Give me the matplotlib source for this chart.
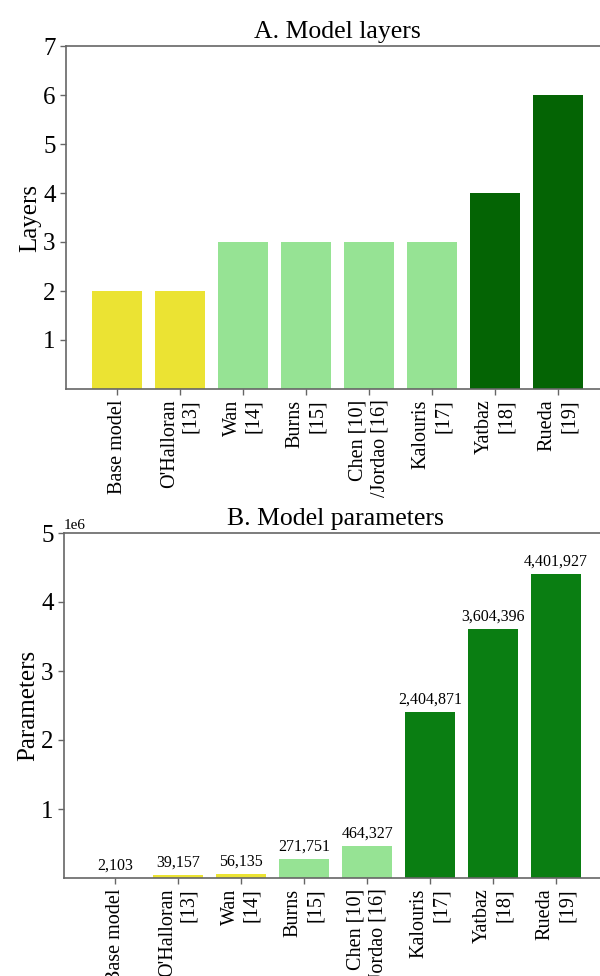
import matplotlib
matplotlib.use("Agg")
import matplotlib.pyplot as plt

plt.rcParams['font.family'] = ['Liberation Serif', 'DejaVu Serif']

labels = ["Base model", "O'Halloran\n[13]", "Wan\n[14]", "Burns\n[15]",
          "Chen [10]\n/Jordao [16]", "Kalouris\n[17]", "Yatbaz\n[18]", "Rueda\n[19]"]
layers = [2, 2, 3, 3, 3, 3, 4, 6]
layer_colors = ["#EBE333", "#EBE333", "#96E394", "#96E394", "#96E394", "#96E394",
                "#046404", "#046404"]
params = [2103, 39157, 56135, 271751, 464327, 2404871, 3604396, 4401927]
param_colors = ["#EBE333", "#EBE333", "#EBE333", "#96E394", "#96E394",
                "#0A7E12", "#0A7E12", "#0A7E12"]

W, H = 600, 976
fig = plt.figure(figsize=(W / 100, H / 100), dpi=100)

def setup(ax):
    for s in ['left', 'bottom', 'top']:
        ax.spines[s].set_color('#666666')
        ax.spines[s].set_linewidth(1.2)
    ax.spines['right'].set_visible(False)
    ax.tick_params(colors='#666666', labelcolor='black', length=4, width=1)
    ax.tick_params(axis='y', labelsize=18)
    x = list(range(len(labels)))
    ax.set_xticks(x)
    ax.set_xticklabels(labels, rotation=90, fontsize=14.5, ha='center', va='top',
                       multialignment='right')
    ax.set_xlim(-0.81, 7.79)

# Top axes
ax1 = fig.add_axes([66 / W, 1 - 389 / H, (608 - 66) / W, (389 - 46) / H])
ax1.bar(range(len(labels)), layers, width=0.8, color=layer_colors)
setup(ax1)
ax1.set_ylim(0, 7)
ax1.set_yticks([1, 2, 3, 4, 5, 6, 7])
ax1.set_ylabel("Layers", fontsize=18, labelpad=1)
ax1.set_title("A. Model layers", fontsize=18.5, pad=6)

# Bottom axes
ax2 = fig.add_axes([64 / W, 1 - 878 / H, (606 - 64) / W, (878 - 533) / H])
bars = ax2.bar(range(len(labels)), params, width=0.8, color=param_colors)
setup(ax2)
ax2.set_ylim(0, 5e6)
ax2.set_yticks([1e6, 2e6, 3e6, 4e6, 5e6])
ax2.yaxis.get_offset_text().set_fontsize(11)
ax2.set_ylabel("Parameters", fontsize=18, labelpad=1)
ax2.set_title("B. Model parameters", fontsize=18.5, pad=6)
ax2.bar_label(bars, labels=[f"{v:,}" for v in params], fontsize=11.5, padding=3)

fig.savefig("out.png", dpi=100)
